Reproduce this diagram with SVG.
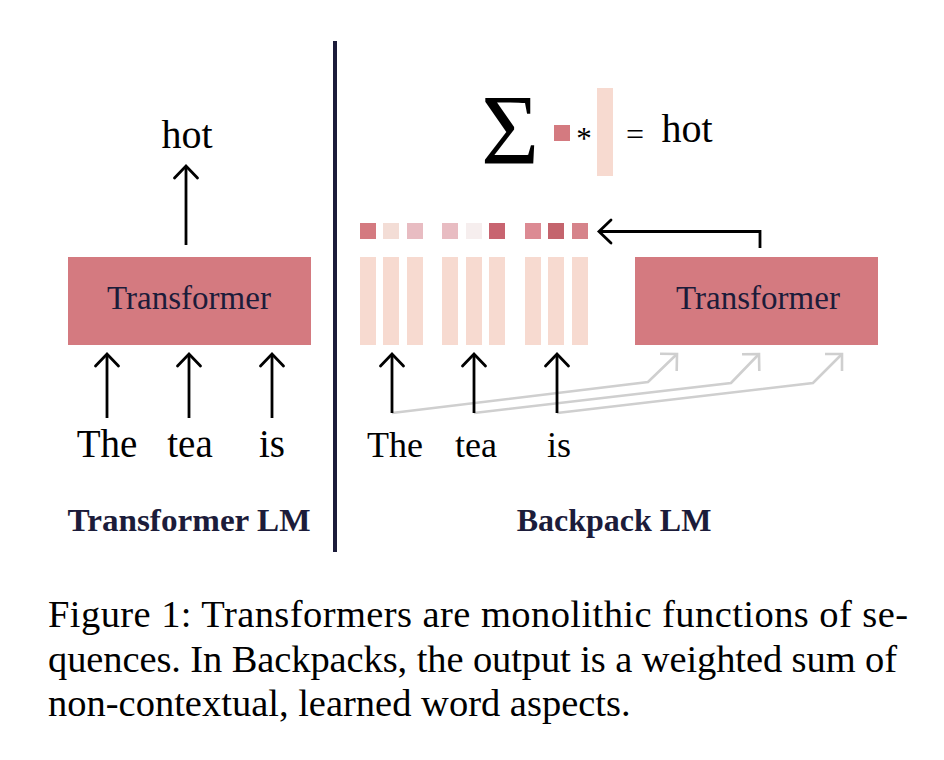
<svg xmlns="http://www.w3.org/2000/svg" width="944" height="760" viewBox="0 0 944 760">
<defs>
<style>
.serif{font-family:"Liberation Serif","Times New Roman",serif}
.word{font-family:"Liberation Serif",serif;fill:#000}
.box{fill:#d47a80}
.boxtxt{font-family:"Liberation Serif",serif;font-size:33px;fill:#1c1c3a;text-anchor:middle}
.lbl{font-family:"Liberation Serif",serif;font-size:32px;font-weight:bold;fill:#1c1c3a;text-anchor:middle}
.cap{font-family:"Liberation Serif","Times New Roman",serif;font-size:38.5px;fill:#000}
.bar{fill:#f7dad0}
.blk{fill:none;stroke:#000;stroke-width:2.8;marker-end:url(#hb)}
.gry{fill:none;stroke:#cfcfcf;stroke-width:2.6;stroke-linejoin:miter;marker-end:url(#hg)}
</style>
<marker id="hb" markerUnits="userSpaceOnUse" viewBox="-14 -14 16 28" refX="0" refY="0" markerWidth="16" markerHeight="28" orient="auto" overflow="visible">
<path d="M-12,-11.5 L0,0 L-12,11.5" fill="none" stroke="#000" stroke-width="2.8" stroke-linecap="round" stroke-linejoin="miter"/>
</marker>
<marker id="hg" markerUnits="userSpaceOnUse" viewBox="-14 -14 16 28" refX="0" refY="0" markerWidth="16" markerHeight="28" orient="auto" overflow="visible">
<path d="M-12,-12 L0,0 L-12,12" fill="none" stroke="#cfcfcf" stroke-width="2.6" stroke-linejoin="miter"/>
</marker>
</defs>
<rect width="944" height="760" fill="#fff"/>

<g id="divider"><rect x="333" y="41" width="4" height="511" fill="#1c1c3a"/></g>

<!-- Left: Transformer LM -->
<g id="left-transformer">
<rect class="box" x="68" y="257" width="243" height="88"/>
<text class="boxtxt" x="189" y="309">Transformer</text>
</g>
<g id="left-output"><text class="word" x="187" y="148" font-size="40" text-anchor="middle">hot</text></g>
<g id="left-words">
<text class="word" x="107" y="457" font-size="39" text-anchor="middle">The</text>
<text class="word" x="190" y="457" font-size="39" text-anchor="middle">tea</text>
<text class="word" x="272" y="457" font-size="39" text-anchor="middle">is</text>
</g>
<g id="left-label"><text class="lbl" x="189" y="531" textLength="243" lengthAdjust="spacingAndGlyphs">Transformer LM</text></g>

<!-- Right: Backpack LM -->
<g id="sum-expression">
<text class="serif" x="510" y="163" font-size="100" text-anchor="middle">Σ</text>
<rect x="554" y="125" width="16" height="16" fill="#d47a80"/>
<text class="serif" x="584" y="149" font-size="31" text-anchor="middle">*</text>
<rect class="bar" x="597" y="88" width="16" height="88"/>
<text class="serif" x="635" y="145" font-size="32" text-anchor="middle">=</text>
<text class="word" x="687" y="142" font-size="40" text-anchor="middle">hot</text>
</g>
<g id="weights">
<rect x="360" y="223" width="16" height="16" fill="#d47a80"/>
<rect x="383" y="223" width="16" height="16" fill="#f3ddd6"/>
<rect x="407" y="223" width="16" height="16" fill="#e8bcc2"/>
<rect x="442" y="223" width="16" height="16" fill="#e8bcc2"/>
<rect x="466" y="223" width="16" height="16" fill="#f6eeee"/>
<rect x="489" y="223" width="16" height="16" fill="#c86470"/>
<rect x="525" y="223" width="16" height="16" fill="#dc8a93"/>
<rect x="548" y="223" width="16" height="16" fill="#c4646d"/>
<rect x="572" y="223" width="16" height="16" fill="#d6838a"/>
</g>
<g id="sense-vectors">
<rect class="bar" x="360" y="257" width="16" height="88"/>
<rect class="bar" x="383" y="257" width="16" height="88"/>
<rect class="bar" x="407" y="257" width="16" height="88"/>
<rect class="bar" x="442" y="257" width="16" height="88"/>
<rect class="bar" x="466" y="257" width="16" height="88"/>
<rect class="bar" x="489" y="257" width="16" height="88"/>
<rect class="bar" x="525" y="257" width="16" height="88"/>
<rect class="bar" x="548" y="257" width="16" height="88"/>
<rect class="bar" x="572" y="257" width="16" height="88"/>
</g>
<g id="right-transformer">
<rect class="box" x="635" y="257" width="243" height="88"/>
<text class="boxtxt" x="758" y="309">Transformer</text>
</g>
<g id="right-words">
<text class="word" x="395" y="457" font-size="36" text-anchor="middle">The</text>
<text class="word" x="476" y="457" font-size="36" text-anchor="middle">tea</text>
<text class="word" x="559" y="457" font-size="36" text-anchor="middle">is</text>
</g>
<g id="right-label"><text class="lbl" x="614" y="531">Backpack LM</text></g>

<g id="connectors">
<path class="blk" d="M186,245 L186,166"/>
<path class="blk" d="M107,418 L107,354"/>
<path class="blk" d="M189,418 L189,354"/>
<path class="blk" d="M272,418 L272,354"/>
<path class="gry" d="M392,413 L648,382 L677,354"/>
<path class="gry" d="M474,413 L731,383 L759,354"/>
<path class="gry" d="M557,413 L813,383 L842,354"/>
<path class="blk" d="M392,413 L392,354"/>
<path class="blk" d="M474,413 L474,354"/>
<path class="blk" d="M557,413 L557,354"/>
<path class="blk" d="M760,248 L760,231.5 L599,231.5" stroke-linejoin="miter"/>
</g>

<g id="caption">
<text class="cap" x="48" y="627" textLength="860" lengthAdjust="spacing">Figure 1: Transformers are monolithic functions of se-</text>
<text class="cap" x="48" y="672" textLength="849" lengthAdjust="spacing">quences. In Backpacks, the output is a weighted sum of</text>
<text class="cap" x="48" y="716">non-contextual, learned word aspects.</text>
</g>
</svg>
